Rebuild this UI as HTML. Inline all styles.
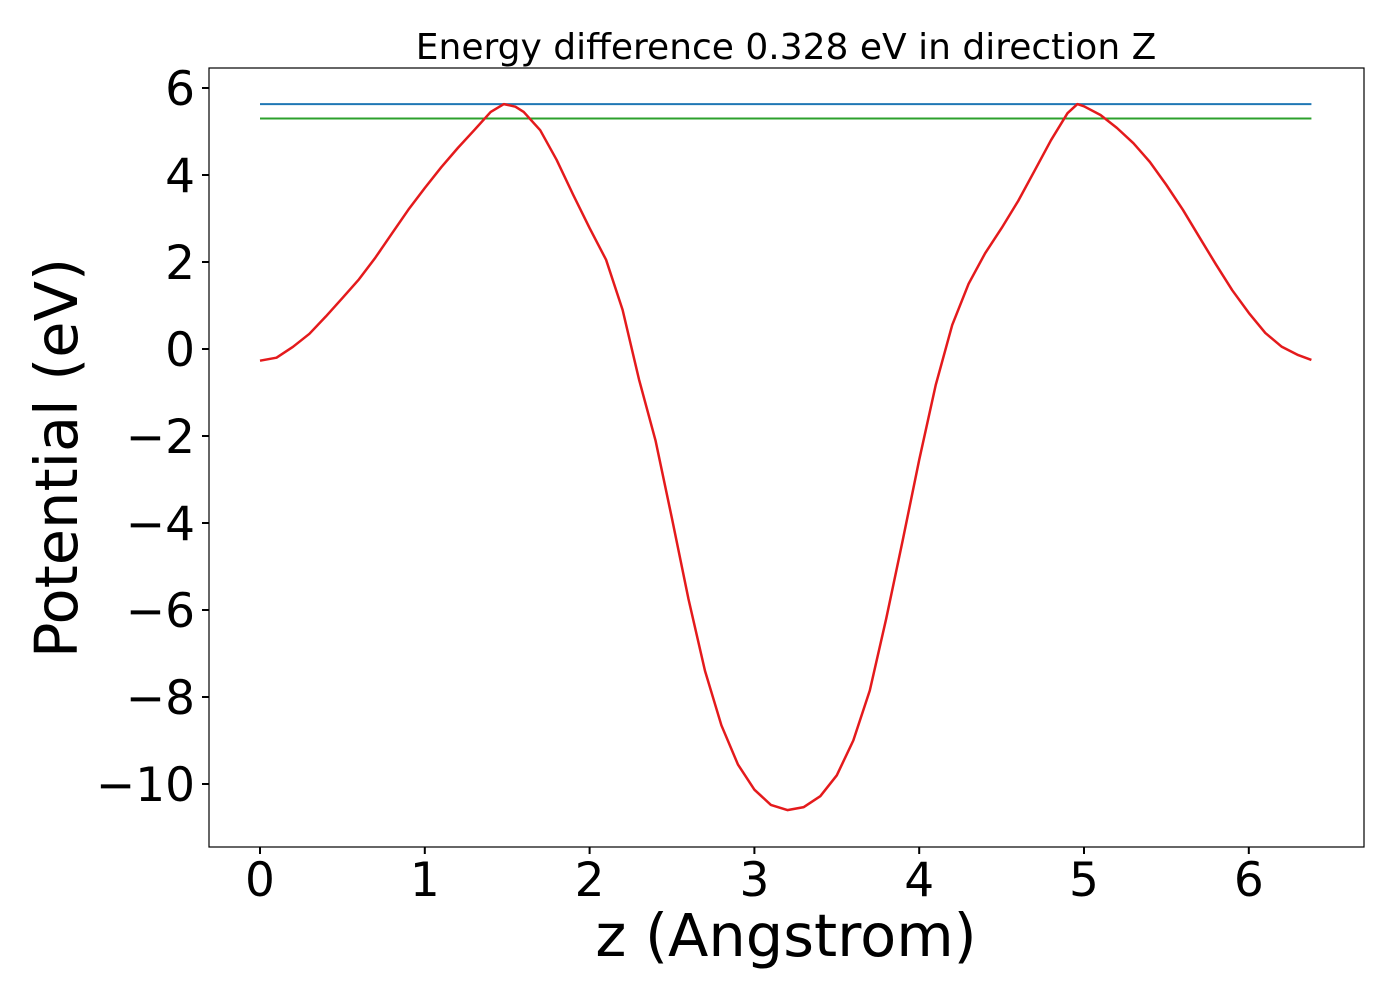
<!DOCTYPE html>
<html><head><meta charset="utf-8"><style>
html,body{margin:0;padding:0;background:#fff;}
svg{display:block;font-family:"DejaVu Sans","Liberation Sans",sans-serif;}
</style></head><body>
<svg id="chart" width="1400" height="1000" viewBox="0 0 1400 1000">
<rect x="0" y="0" width="1400" height="1000" fill="#fff"/>
<text x="786" y="59" font-size="36" text-anchor="middle">Energy difference 0.328 eV in direction Z</text>
<g id="marks"></g>
<rect x="209" y="68" width="1155" height="779" fill="none" stroke="#000" stroke-width="1.2"/>
<g id="xticks"></g><g id="yticks"></g>
<text x="786" y="956" font-size="59" text-anchor="middle">z (Angstrom)</text>
<text transform="translate(77,458) rotate(-90)" font-size="59" text-anchor="middle">Potential (eV)</text>
</svg>
<script>
const zValues=[0,0.1,0.2,0.3,0.4,0.5,0.6,0.7,0.8,0.9,1.0,1.1,1.2,1.3,1.4,1.48,1.55,1.6,1.7,1.8,1.9,2.0,2.1,2.2,2.3,2.4,2.5,2.6,2.7,2.8,2.9,3.0,3.1,3.2,3.3,3.4,3.5,3.6,3.7,3.8,3.9,4.0,4.1,4.2,4.3,4.4,4.5,4.6,4.7,4.8,4.9,4.96,5.0,5.1,5.2,5.3,5.4,5.5,5.6,5.7,5.8,5.9,6.0,6.1,6.2,6.3,6.38];
const potential=[-0.27,-0.2,0.05,0.35,0.75,1.17,1.6,2.1,2.65,3.2,3.7,4.18,4.62,5.03,5.45,5.63,5.57,5.45,5.03,4.35,3.55,2.78,2.05,0.9,-0.7,-2.1,-3.9,-5.75,-7.4,-8.65,-9.55,-10.13,-10.48,-10.6,-10.53,-10.28,-9.8,-9.0,-7.85,-6.2,-4.4,-2.55,-0.83,0.55,1.5,2.2,2.78,3.4,4.1,4.8,5.42,5.63,5.58,5.38,5.08,4.73,4.3,3.77,3.2,2.57,1.95,1.35,0.83,0.37,0.05,-0.14,-0.25];
const maxLevel=[5.63];
const minLevel=[5.30];
const xTickVals=[0,1,2,3,4,5,6];
const yTickVals=[6,4,2,0,-2,-4,-6,-8,-10];
const NS="http://www.w3.org/2000/svg";
function xs(v){return 260+v*164.8;}
function ys(v){return 349-v*43.5;}
const marks=document.getElementById('marks');
function line(x1,y1,x2,y2,c,name){const l=document.createElementNS(NS,'line');
l.setAttribute('x1',x1);l.setAttribute('y1',y1);l.setAttribute('x2',x2);l.setAttribute('y2',y2);
l.setAttribute('stroke',c);l.setAttribute('stroke-width',2);


return l;}
const z0=zValues[0],z1=zValues[zValues.length-1];
marks.appendChild(line(xs(z0),ys(maxLevel[0]),xs(z1),ys(maxLevel[0]),'#1f77b4','max-level-line'));
marks.appendChild(line(xs(z0),ys(minLevel[0]),xs(z1),ys(minLevel[0]),'#2ca02c','min-level-line'));
const p=document.createElementNS(NS,'polyline');
p.setAttribute('points',zValues.map((z,i)=>xs(z).toFixed(1)+','+ys(potential[i]).toFixed(1)).join(' '));
p.setAttribute('fill','none');p.setAttribute('stroke','#e41a1c');p.setAttribute('stroke-width',2.5);
p.setAttribute('stroke-linejoin','round');


marks.appendChild(p);
const xt=document.getElementById('xticks');
xTickVals.forEach(v=>{const x=xs(v);
xt.appendChild(line(x,847,x,854,'#000','x-tick'));
const t=document.createElementNS(NS,'text');t.setAttribute('x',x);t.setAttribute('y',896);
t.setAttribute('font-size',47);t.setAttribute('text-anchor','middle');t.textContent=v;


xt.appendChild(t);});
const yt=document.getElementById('yticks');
yTickVals.forEach(v=>{const y=ys(v);
yt.appendChild(line(202,y,209,y,'#000','y-tick'));
const t=document.createElementNS(NS,'text');t.setAttribute('x',195);t.setAttribute('y',y+17);
t.setAttribute('font-size',47);t.setAttribute('text-anchor','end');t.textContent=v<0?'\u2212'+Math.abs(v):String(v);


yt.appendChild(t);});
</script>
</body></html>
